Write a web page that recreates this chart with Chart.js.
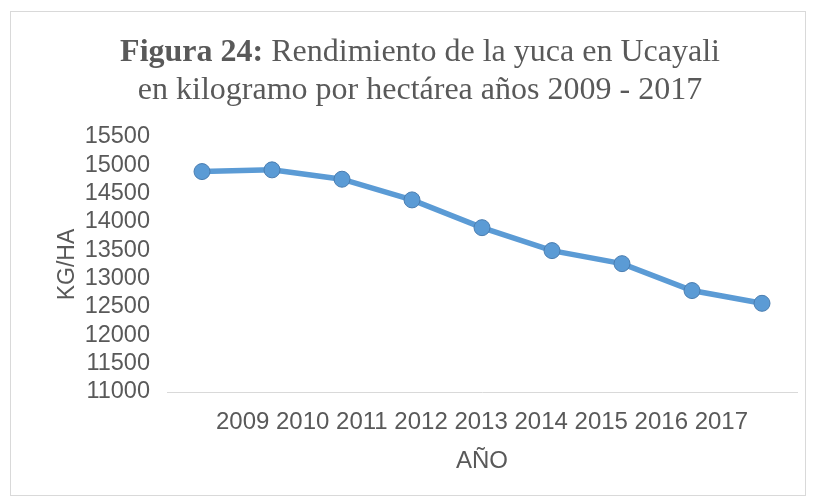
<!DOCTYPE html>
<html>
<head>
<meta charset="utf-8">
<script src="https://cdn.jsdelivr.net/npm/chart.js@4.4.1/dist/chart.umd.min.js"></script>
<style>
  html, body { margin: 0; padding: 0; background: #ffffff; }
  #wrap { position: relative; width: 816px; height: 502px; }
  #frame { position: absolute; left: 10px; top: 11px; width: 796px; height: 485px;
           border: 1px solid #d9d9d9; box-sizing: border-box; pointer-events: none; }
  #title { position: absolute; left: 0; top: 31px; width: 840px; text-align: center;
           font-family: "Liberation Serif", "Times New Roman", serif; font-size: 32px;
           line-height: 38px; color: #595959; }
  canvas { position: absolute; left: 0; top: 0; }
</style>
</head>
<body>
<div id="wrap">
  <canvas id="c" width="816" height="502"></canvas>
  <div id="frame"></div>
  <div id="title"><b>Figura 24:</b> Rendimiento de la yuca en Ucayali<br>en kilogramo por hectárea años 2009 - 2017</div>
</div>
<script>
const years = ['2009', '2010', '2011', '2012', '2013', '2014', '2015', '2016', '2017'];
const yieldKgHa = [14890, 14920, 14755, 14390, 13900, 13495, 13265, 12790, 12565];
const yMin = 11000;
const yMax = 15500;
const yStep = 500;
const xTitle = 'AÑO';
const yTitle = 'KG/HA';

const textColor = '#595959';
const sans = "'Liberation Sans', Arial, sans-serif";

new Chart(document.getElementById('c'), {
  type: 'line',
  data: {
    labels: years,
    datasets: [{
      data: yieldKgHa,
      borderColor: '#5b9bd5',
      borderWidth: 5.5,
      backgroundColor: '#5b9bd5',
      pointBackgroundColor: '#5b9bd5',
      pointBorderColor: '#4a7db0',
      pointBorderWidth: 1,
      pointRadius: 8,
      tension: 0,
      fill: false
    }]
  },
  options: {
    responsive: false,
    animation: false,
    devicePixelRatio: 1,
    layout: { padding: { top: 137, right: 19, bottom: 0, left: 0 } },
    plugins: { legend: { display: false }, title: { display: false }, tooltip: { enabled: false } },
    scales: {
      x: {
        type: 'category',
        offset: true,
        grid: { display: false, drawTicks: false },
        border: { display: true, color: '#d9d9d9', width: 1 },
        ticks: {
          autoSkip: false, maxRotation: 0, minRotation: 0,
          color: textColor, padding: 15.6,
          font: { family: sans, size: 24 },
          callback: function (v, i) { return i === Math.floor(years.length / 2) ? years.join(' ') : ''; }
        },
        title: { display: true, text: xTitle, color: textColor,
                 font: { family: sans, size: 24 }, padding: { top: 0, bottom: 26 } },
        afterFit: function (s) { s.height = 110; }
      },
      y: {
        min: yMin, max: yMax,
        grid: { display: false, drawTicks: false },
        border: { display: false },
        ticks: { stepSize: yStep, autoSkip: false, color: textColor, padding: 17,
                 font: { family: sans, size: 23.5 },
                 callback: function (v) { return String(v); } },
        title: { display: true, text: yTitle, color: textColor,
                 font: { family: sans, size: 23 }, padding: { top: 54, bottom: 0 } },
        afterFit: function (s) { s.width = 167; }
      }
    }
  }
});
</script>
</body>
</html>
